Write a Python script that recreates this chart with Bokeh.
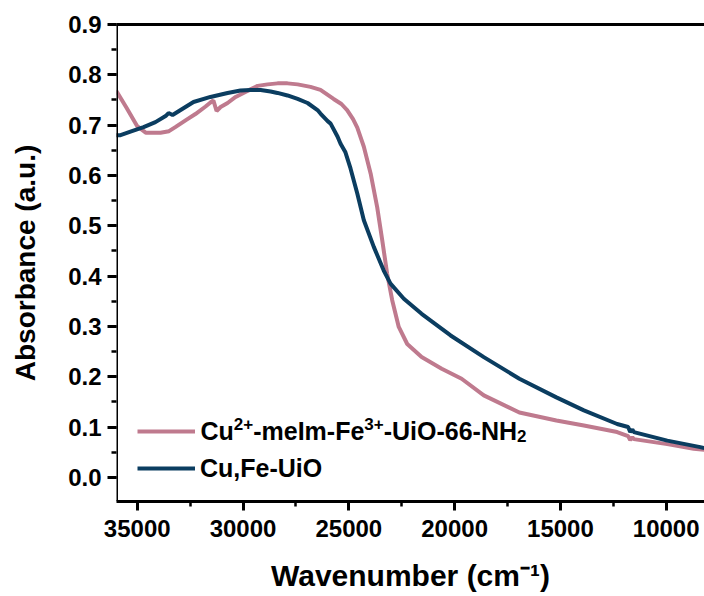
from bokeh.plotting import figure
from bokeh.models import (Range1d, FixedTicker, LinearAxis, Legend, LegendItem,
                          Label, Span, CustomJSTickFormatter)
from bokeh.embed import file_html
from bokeh.resources import INLINE

# UV-vis spectra: wavenumber (cm^-1) vs absorbance (a.u.)
melm_wn = [36000, 35500, 35000, 34600, 33900, 33500, 33200, 32700, 32250, 31770,
           31540, 31400, 31250, 31060, 30730, 30350, 29980, 29650, 29310, 28840,
           28370, 27900, 27420, 26810, 26340, 25720, 25350, 25080, 24800, 24600,
           24290, 23970, 23660, 23420, 23190, 22950, 22640, 22240, 21560, 20610,
           19670, 18620, 16940, 15190, 13890, 12320, 11800, 11700, 11600, 11530,
           9950, 8700, 8200]
melm_abs = [0.769, 0.734, 0.698, 0.685, 0.685, 0.688, 0.696, 0.710, 0.722, 0.737,
            0.745, 0.749, 0.728, 0.736, 0.744, 0.756, 0.764, 0.771, 0.778, 0.781,
            0.783, 0.783, 0.781, 0.776, 0.770, 0.752, 0.742, 0.730, 0.712, 0.695,
            0.657, 0.604, 0.537, 0.471, 0.405, 0.352, 0.299, 0.265, 0.239, 0.216,
            0.196, 0.163, 0.129, 0.113, 0.103, 0.090, 0.082, 0.074, 0.080, 0.076,
            0.066, 0.057, 0.055]

cufe_wn = [36000, 35790, 35320, 34700, 34140, 33660, 33520, 33330, 32950, 32340,
           31540, 30730, 30120, 29650, 29170, 28700, 28370, 27900, 27420, 26950,
           26480, 26340, 26000, 25860, 25530, 25390, 25160, 24920, 24600, 24290,
           23820, 23350, 23030, 22400, 21560, 20190, 18620, 16940, 15190, 13890,
           12320, 11800, 11700, 11600, 11530, 9950, 8390, 8200]
cufe_abs = [0.680, 0.680, 0.687, 0.696, 0.706, 0.718, 0.724, 0.720, 0.730, 0.746,
            0.756, 0.764, 0.769, 0.770, 0.770, 0.767, 0.764, 0.759, 0.752, 0.744,
            0.730, 0.723, 0.708, 0.703, 0.677, 0.663, 0.646, 0.614, 0.564, 0.511,
            0.458, 0.411, 0.385, 0.355, 0.325, 0.282, 0.239, 0.196, 0.159, 0.133,
            0.106, 0.100, 0.090, 0.095, 0.090, 0.073, 0.060, 0.058]

# first series name as (text, style) runs: "" normal, "sup", "sub"
melm_name_runs = [("Cu", ""), ("2+", "sup"), ("-meIm-Fe", ""), ("3+", "sup"),
                  ("-UiO-66-NH", ""), ("2", "sub")]
cufe_name = "Cu,Fe-UiO"
series_colors = ["#BF7A8E", "#0B3D60"]

x_ticks = [35000, 30000, 25000, 20000, 15000, 10000]
x_minor = [35000 - 2500 * i for i in range(12)]
y_ticks = [0.0, 0.1, 0.2, 0.3, 0.4, 0.5, 0.6, 0.7, 0.8, 0.9]
y_minor = [round(0.05 * i, 2) for i in range(19)]

X_START, X_END = 35980, 8190
Y_START, Y_END = -0.048, 0.9

FONT = "Liberation Sans"
MAIN_PX = 25
SMALL_PX = 17

# Arial/Liberation Sans Bold advance widths (1/1000 em)
ADV = {"C": 722, "u": 611, "2": 556, "+": 584, "-": 333, "m": 889, "e": 556,
       "I": 278, "F": 611, "3": 556, "U": 722, "i": 278, "O": 778, "6": 556,
       "N": 722, "H": 722, ",": 278}


def run_width(text, px):
    return sum(ADV[c] for c in text) * px / 1000.0


p = figure(width=704, height=596, output_backend="svg", toolbar_location=None,
           x_range=Range1d(X_START, X_END), y_range=Range1d(Y_START, Y_END),
           min_border_left=116, min_border_right=0, min_border_top=24,
           min_border_bottom=95)
p.outline_line_color = None
p.grid.visible = False
p.background_fill_color = "white"
p.border_fill_color = "white"

r1 = p.line(melm_wn, melm_abs, line_color=series_colors[0], line_width=4)
r2 = p.line(cufe_wn, cufe_abs, line_color=series_colors[1], line_width=4)

xa = p.xaxis[0]
xa.ticker = FixedTicker(ticks=x_ticks, minor_ticks=x_minor)
xa.axis_label = "Wavenumber (cm\u207b\u00b9)"
ya = p.yaxis[0]
ya.ticker = FixedTicker(ticks=y_ticks, minor_ticks=y_minor)
ya.formatter = CustomJSTickFormatter(code="return tick.toFixed(1);")
ya.axis_label = "Absorbance (a.u.)"
# bounds set the span the title is centred on; the left edge line is a Span
ya.bounds = (0.0, 0.962)
ya.axis_line_color = None

for ax in (xa, ya):
    ax.axis_line_width = 3
    ax.major_tick_line_width = 3
    ax.minor_tick_line_width = 2.5
    ax.major_tick_out = 9
    ax.major_tick_in = 0
    ax.minor_tick_out = 5
    ax.minor_tick_in = 0
    ax.major_label_text_font = FONT
    ax.major_label_text_font_style = "bold"
    ax.major_label_text_font_size = "24px"
    ax.major_label_text_color = "black"
    ax.axis_label_text_font = FONT
    ax.axis_label_text_font_style = "bold"
    ax.axis_label_text_color = "black"

xa.axis_line_color = "black"
xa.major_label_standoff = 9
xa.axis_label_text_font_size = "30px"
xa.axis_label_standoff = 19
ya.major_label_standoff = 6
ya.axis_label_text_font_size = "28px"
ya.axis_label_standoff = 24

# left frame edge
p.add_layout(Span(location=X_START, dimension="height", line_color="black",
                  line_width=3))

# plain top border line
top = LinearAxis(ticker=FixedTicker(ticks=[]), axis_line_width=3,
                 major_tick_out=0, minor_tick_out=0, major_label_text_font_size="0px")
p.add_layout(top, "above")

legend = Legend(items=[LegendItem(label=" ", renderers=[r1]),
                       LegendItem(label=cufe_name, renderers=[r2])],
                location=(21, 18), orientation="vertical",
                glyph_width=58, glyph_height=30, label_height=30,
                label_standoff=5, spacing=7, padding=0, margin=0,
                border_line_color=None, background_fill_alpha=0,
                label_text_font=FONT, label_text_font_style="bold",
                label_text_font_size=f"{MAIN_PX}px", label_text_color="black")
p.add_layout(legend)

# first legend entry text with real super/subscripts
x0 = 84.0
base_y = 71
for text, style in melm_name_runs:
    px = MAIN_PX if style == "" else SMALL_PX
    dy = {"": 0, "sup": 7, "sub": -5}[style]
    p.add_layout(Label(x=x0, y=base_y + dy, x_units="screen", y_units="screen",
                       text=text, text_align="left", text_baseline="alphabetic",
                       text_font=FONT, text_font_style="bold",
                       text_font_size=f"{px}px", text_color="black"))
    x0 += run_width(text, px)

open("out.html", "w").write(file_html(p, INLINE))
